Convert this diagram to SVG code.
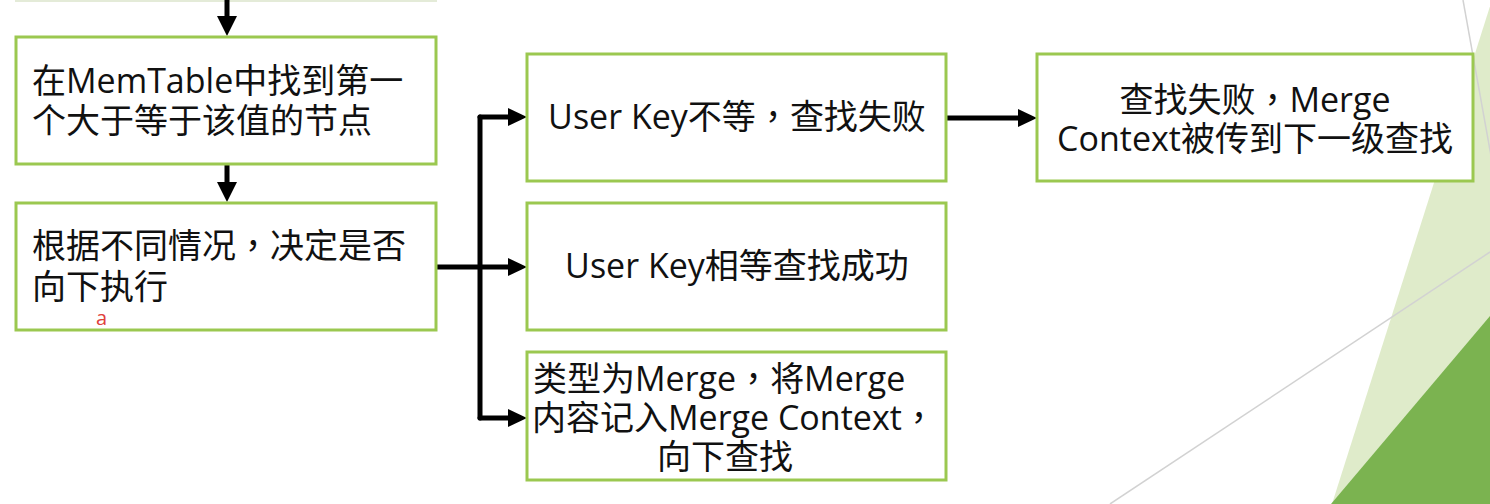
<svg xmlns="http://www.w3.org/2000/svg" width="1490" height="504" viewBox="0 0 1490 504">
<style>
.bg{fill:#ffffff}
.lt{fill:#dfebca}
.dk{fill:#7bb350}
.thin{stroke:#d2d2d2;stroke-width:1.5;fill:none}
.box{fill:#ffffff;stroke:#9bc850;stroke-width:3}
.t{font-family:"Open Sans","Noto Sans CJK SC",sans-serif;font-size:34px;fill:#111111}
.c{font-family:"Noto Sans CJK TC",sans-serif}
.m{text-anchor:middle}
.ln{stroke:#000000;stroke-width:5;fill:none;stroke-linecap:round}
.ah{fill:#000000}
.red{font-family:"Open Sans","Liberation Sans",sans-serif;font-size:20px;fill:#e0403a}
</style>
<rect class="bg" x="0" y="0" width="1490" height="504"/>
<g id="background">
<polygon class="lt" points="1492,0 1332,504 1490,504"/>
<polygon class="dk" points="1490,316 1331,504 1490,504"/>
<line class="thin" x1="1463" y1="0" x2="1500" y2="206"/>
<line class="thin" x1="1110" y1="504" x2="1490" y2="252"/>
</g>
<g id="prev-box">
<line x1="15" y1="1" x2="437" y2="1" stroke="#e4ebd8" stroke-width="2"/>
</g>
<g id="connectors">
<line class="ln" x1="227" y1="-5" x2="227" y2="18"/>
<polygon class="ah" points="217,16 237,16 227,36"/>
<line class="ln" x1="227" y1="165" x2="227" y2="184"/>
<polygon class="ah" points="217,182 237,182 227,202"/>
<line class="ln" x1="434" y1="267" x2="510" y2="267"/>
<line class="ln" x1="480" y1="117" x2="480" y2="418"/>
<line class="ln" x1="480" y1="117" x2="510" y2="117"/>
<line class="ln" x1="480" y1="418" x2="510" y2="418"/>
<polygon class="ah" points="508,108 527,117 508,126"/>
<polygon class="ah" points="508,258 527,267 508,276"/>
<polygon class="ah" points="508,409 527,418 508,427"/>
<line class="ln" x1="944" y1="118" x2="1020" y2="118"/>
<polygon class="ah" points="1018,109 1037,118 1018,127"/>
</g>
<g id="node-find">
<rect class="box" x="16" y="37" width="420" height="127"/>
<text class="t"><tspan x="32" y="93">在MemTable中找到第一</tspan><tspan x="32" y="133">个大于等于该值的节点</tspan></text>
</g>
<g id="node-decide">
<rect class="box" x="16" y="203" width="420" height="127"/>
<text class="t"><tspan x="32" y="258">根据不同情况<tspan class="c">，</tspan>决定是否</tspan><tspan x="32" y="299">向下执行</tspan></text>
<text class="red" x="96" y="325">a</text>
</g>
<g id="node-notequal">
<rect class="box" x="527" y="54" width="419" height="127"/>
<text class="t m" x="737" y="129">User Key不等<tspan class="c">，</tspan>查找失败</text>
</g>
<g id="node-equal">
<rect class="box" x="527" y="203" width="419" height="127"/>
<text class="t m" x="737" y="278">User Key相等查找成功</text>
</g>
<g id="node-merge">
<rect class="box" x="527" y="352" width="419" height="128"/>
<text class="t"><tspan x="533" y="391">类型为Merge<tspan class="c">，</tspan>将Merge</tspan><tspan x="532" y="430">内容记入Merge Context<tspan class="c">，</tspan></tspan><tspan x="657" y="469">向下查找</tspan></text>
</g>
<g id="node-fail">
<rect class="box" x="1037" y="54" width="436" height="127"/>
<text class="t m"><tspan x="1255" y="112">查找失败<tspan class="c">，</tspan>Merge</tspan><tspan x="1255" y="151">Context被传到下一级查找</tspan></text>
</g>
</svg>
